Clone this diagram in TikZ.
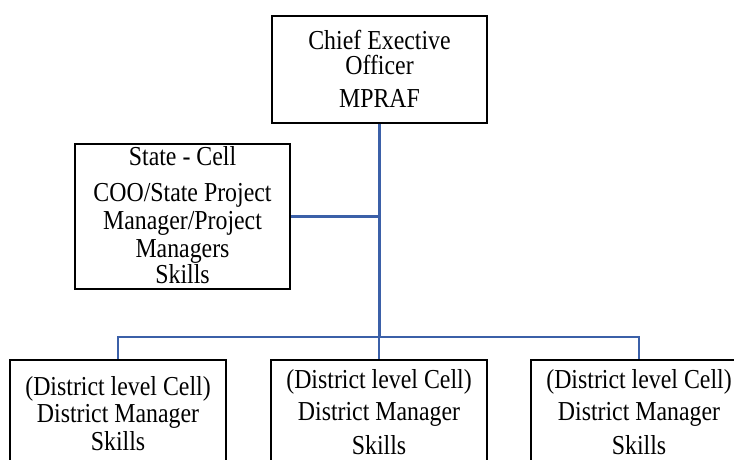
\documentclass[tikz,border=0pt]{standalone}
\usepackage{fontspec}
\setmainfont[FakeStretch=0.87]{Liberation Serif}
\definecolor{linkblue}{RGB}{59,96,168}
\begin{document}
\begin{tikzpicture}[x=1pt,y=-1pt,
  box/.style={draw=black,line width=2.8pt,rectangle,inner sep=0pt},
  txt/.style={anchor=base,inner sep=0pt,font=\fontsize{27.4}{25}\selectfont},
  link/.style={draw=linkblue,line width=2.3pt}]
\useasboundingbox (0,0) rectangle (734,459);
\clip (0,0) rectangle (734,459);

% boxes
\node[box,minimum width=215pt,minimum height=107pt] (ceo) at (379.5,69.5) {};
\node[box,minimum width=215pt,minimum height=145pt] (state) at (182.5,216.5) {};
\node[box,minimum width=216pt,minimum height=120pt] (left) at (118,420) {};
\node[box,minimum width=216pt,minimum height=120pt] (mid) at (379,420) {};
\node[box,minimum width=216pt,minimum height=120pt] (right) at (639,420) {};

% junction of the district bus
\coordinate (bus) at (379,337);

% connectors
\draw[link] (ceo.south) -- (ceo.south |- bus);
\draw[link] (state.east) -- (state.east -| ceo.south);
\draw[link] (left.north) |- (bus) -| (right.north);
\draw[link] (mid.north) -- (mid.north |- bus);

% chief executive
\node[txt] (ceo1) at (379.5,49) {Chief Exective};
\node[txt] (ceo2) at (379.5,74) {Officer};
\node[txt] (ceo3) at (379.5,107) {MPRAF};

% state cell
\node[txt] (st1) at (182.5,165) {State - Cell};
\node[txt] (st2) at (182.5,201) {COO/State Project};
\node[txt] (st3) at (182.5,229) {Manager/Project};
\node[txt] (st4) at (182.5,257) {Managers};
\node[txt] (st5) at (182.5,283) {Skills};

% district cells
\node[txt] (l1) at (118,395) {(District level Cell)};
\node[txt] (l2) at (118,422) {District Manager};
\node[txt] (l3) at (118,450) {Skills};

\node[txt] (m1) at (379,388) {(District level Cell)};
\node[txt] (m2) at (379,420) {District Manager};
\node[txt] (m3) at (379,454) {Skills};

\node[txt] (r1) at (639,388) {(District level Cell)};
\node[txt] (r2) at (639,420) {District Manager};
\node[txt] (r3) at (639,454) {Skills};
\end{tikzpicture}
\end{document}
